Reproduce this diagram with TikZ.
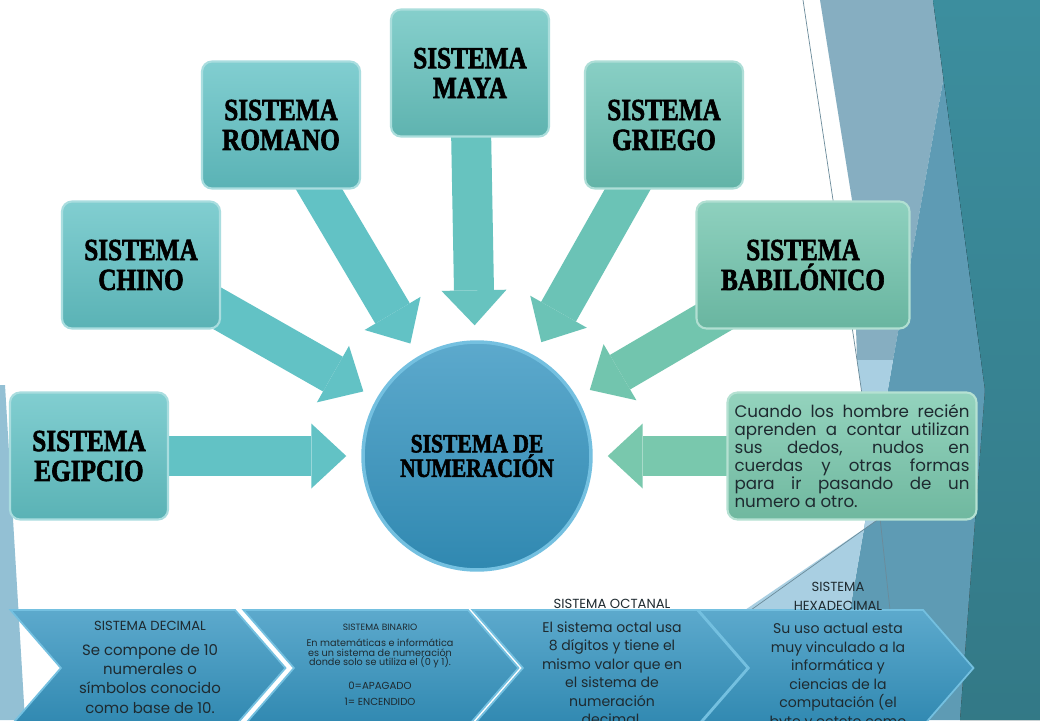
\documentclass[tikz,border=0pt]{standalone}
\usepackage{fontspec}
\setmainfont{Poppins}
\newfontfamily\cajafont[FakeStretch=0.82,FakeBold=2]{Liberation Serif}
\usepackage{tikz}
\usetikzlibrary{arrows.meta,shapes.symbols,backgrounds}

\definecolor{turquesa}{HTML}{62C2C5}
\definecolor{aguamar}{HTML}{67C3BF}
\definecolor{verdemar}{HTML}{6BC3B6}
\definecolor{menta}{HTML}{72C5AE}
\definecolor{jade}{HTML}{79C8AD}
\definecolor{azul}{HTML}{3494C0}
\definecolor{azulborde}{HTML}{74C0E0}
\definecolor{tinta}{HTML}{1E2A30}
\definecolor{grisazul}{HTML}{86AEC1}
\definecolor{azulmedio}{HTML}{5E9BB4}
\definecolor{petroleo}{HTML}{3C8E9E}
\definecolor{celeste}{HTML}{A9CFE2}

\begin{document}
\begin{tikzpicture}[x=0.02cm,y=-0.02cm,
	caja/.style={draw=#1!55!white, line width=1.2pt, rounded corners=0.2cm, top color=#1!80!white, bottom color=#1!92!black, minimum width=3.16cm, minimum height=2.54cm, inner sep=2pt, align=center, font=\cajafont\bfseries\fontsize{17.5}{17}\selectfont},
	flecha/.style={draw=#1, line width=0.8cm, -{Triangle[length=0.7cm,width=1.3cm,line width=0pt,color=#1,fill=#1]}, shorten >=0.3cm},
	cheuron/.style={shape=signal, signal from=west, signal to=east, signal pointer angle=98, minimum width=5.5cm, minimum height=2.32cm, inner sep=0pt, draw=azulborde, line width=1pt, top color=azul!80!white, bottom color=azul!92!black},
	nota/.style={align=center, text=tinta, inner sep=0pt, anchor=north},
	hilo/.style={draw=grisazul!80!black, line width=0.4pt}
	]
	\useasboundingbox (0,0) rectangle (1040,720);
	\clip (0,0) rectangle (1040,720);
	
	\node[circle, draw=azulborde, line width=2pt, top color=azul!80!white, bottom color=azul!92!black, minimum size=4.56cm, align=center, font=\cajafont\bfseries\fontsize{15}{14}\selectfont] (centro) at (477,456) {SISTEMA DE\\NUMERACIÓN};
	
	\node[caja=turquesa] (egipcio) at (89,456) {SISTEMA\\EGIPCIO};
	\node[caja=turquesa] (chino) at (141,265) {SISTEMA\\CHINO};
	\node[caja=turquesa] (romano) at (281,125) {SISTEMA\\ROMANO};
	\node[caja=aguamar] (maya) at (470,73) {SISTEMA\\MAYA};
	\node[caja=verdemar] (griego) at (664,125) {SISTEMA\\GRIEGO};
	\node[caja=menta, minimum width=4.26cm] (babilonico) at (803,265) {SISTEMA\\BABILÓNICO};
	\node[caja=jade, text width=4.7cm, align=justify, inner sep=4pt, font=\fontsize{9.5}{10.2}\selectfont, text=tinta] (texto) at (852,456) {Cuando los hombre recién\linebreak aprenden a contar utilizan\linebreak sus dedos, nudos en\linebreak cuerdas y otras formas\linebreak para ir pasando de un\linebreak numero a otro.};
	
	\begin{pgfonlayer}{background}
		\fill[white] (0,0) rectangle (1040,720);
		\fill[grisazul] (820,0) -- (933,0) -- (945,70) -- (893,360) -- (857,360) -- (852,200) -- cycle;
		\fill[azulmedio] (945,70) -- (985,390) -- (960,720) -- (820,720) -- (850,610) -- (893,360) -- cycle;
		\fill[top color=petroleo, bottom color=petroleo!85!black] (933,0) -- (1040,0) -- (1040,720) -- (960,720) -- (985,390) -- cycle;
		\fill[celeste] (857,360) -- (893,360) -- (850,610) -- (745,610) -- (880,518) -- cycle;
		\fill[celeste!70!azulmedio] (0,385) -- (5,385) -- (25,720) -- (0,720) -- cycle;
		\draw[hilo] (803,0) -- (857,360) -- (880,518) -- (890,610);
		\draw[hilo] (713,637) -- (880,518);
		
		\path[flecha=turquesa] (egipcio.center) edge (centro);
		\path[flecha=turquesa] (chino.center) edge (centro);
		\path[flecha=turquesa] (romano.center) edge (centro);
		\path[flecha=aguamar] (maya.center) edge (centro);
		\path[flecha=verdemar] (griego.center) edge (centro);
		\path[flecha=menta] (babilonico.center) edge (centro);
		\path[flecha=jade] (texto.center) edge (centro);
	\end{pgfonlayer}
	
	\node[cheuron] (decimal) at (148,668) {};
	\node[cheuron] (binario) at (381,668) {};
	\node[cheuron] (octal) at (610,668) {};
	\node[cheuron] (hexa) at (836,668) {};
	
	\node[nota, font=\fontsize{8.5}{11}\selectfont] (tdecimal) at (150,621) {{\fontsize{7.5}{9}\selectfont SISTEMA DECIMAL}\\[3pt]Se compone de 10\\numerales o\\símbolos conocido\\como base de 10.};
	\node[nota, font=\fontsize{5.5}{5.2}\selectfont] (tbinario) at (380,624) {{\fontsize{5.2}{6}\selectfont SISTEMA BINARIO}\\[4pt]En matemáticas e informática\\es un sistema de numeración\\donde solo se utiliza el (0 y 1).\\[7pt]{\fontsize{5.8}{6}\selectfont 0=APAGADO}\\[4pt]{\fontsize{5.8}{6}\selectfont 1= ENCENDIDO}};
	\node[nota, font=\fontsize{8}{10.5}\selectfont] (toctal) at (612,599) {{\fontsize{7.5}{9}\selectfont SISTEMA OCTANAL}\\[3pt]El sistema octal usa\\8 dígitos y tiene el\\mismo valor que en\\el sistema de\\numeración\\decimal.};
	\node[nota, font=\fontsize{8}{10.5}\selectfont] (thexa) at (838,582) {{\fontsize{7.5}{9}\selectfont SISTEMA}\\{\fontsize{7.5}{9}\selectfont HEXADECIMAL}\\[3pt]Su uso actual esta\\muy vinculado a la\\informática y\\ciencias de la\\computación (el\\byte y octeto como};
\end{tikzpicture}
\end{document}
